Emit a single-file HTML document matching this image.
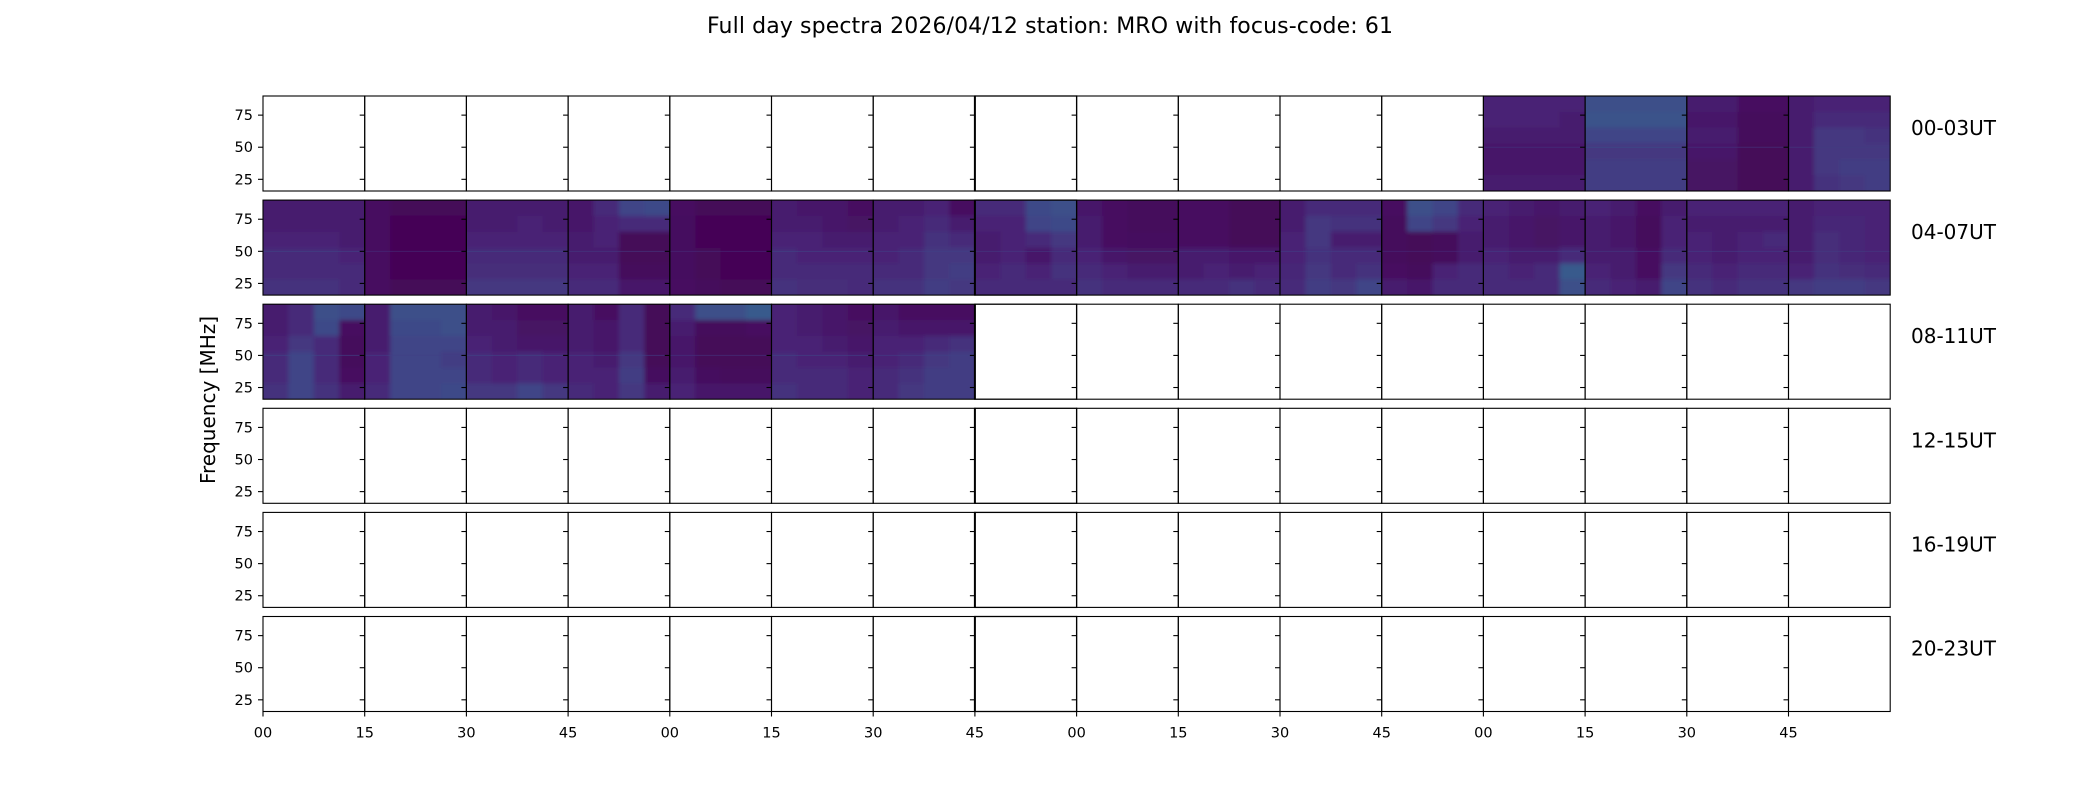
<!DOCTYPE html>
<html><head><meta charset="utf-8"><style>
html,body{margin:0;padding:0;background:#fff;}
svg{display:block;font-family:"DejaVu Sans","Liberation Sans",sans-serif;}
</style></head><body>
<svg id="fig" width="2100" height="800" viewBox="0 0 2100 800">
<defs><filter id="soft" x="0" y="0" width="1" height="1"><feGaussianBlur stdDeviation="2"/></filter></defs>
<text x="1050" y="33" text-anchor="middle" font-size="22" textLength="686">Full day spectra 2026/04/12 station: MRO with focus-code: 61</text>
<text transform="translate(215,400) rotate(-90)" text-anchor="middle" font-size="20">Frequency [MHz]</text>
<g id="plots"></g>
</svg>
<script>
const rowLabels = ["00-03UT","04-07UT","08-11UT","12-15UT","16-19UT","20-23UT"];
const xTickLabels = ["00","15","30","45","00","15","30","45","00","15","30","45","00","15","30","45"];
const yTicks = [25,50,75];
const freqRange = [15.9, 89.9];
// panels with data: [row, col]
const panelPos = [
 [0,12],[0,13],[0,14],[0,15],
 [1,0],[1,1],[1,2],[1,3],[1,4],[1,5],[1,6],[1,7],[1,8],[1,9],[1,10],[1,11],[1,12],[1,13],[1,14],[1,15],
 [2,0],[2,1],[2,2],[2,3],[2,4],[2,5],[2,6]
];
// intensity grids: 6 freq bands (high->low) x 4 time segments
const panelGrids = [
 [[.12,.12,.12,.12],[.12,.12,.12,.1],[.1,.1,.1,.1],[.08,.08,.08,.08],[.08,.08,.08,.08],[.1,.1,.1,.1]],
 [[.3,.3,.3,.3],[.32,.32,.32,.32],[.25,.25,.25,.25],[.2,.2,.2,.2],[.22,.22,.22,.22],[.22,.22,.22,.22]],
 [[.1,.1,.05,.05],[.08,.08,.03,.03],[.1,.1,.03,.03],[.08,.08,.02,.02],[.06,.06,.02,.02],[.06,.06,.02,.02]],
 [[.1,.12,.12,.12],[.1,.15,.15,.15],[.1,.2,.2,.18],[.1,.2,.2,.2],[.1,.2,.22,.22],[.1,.18,.2,.22]],
 [[.1,.1,.1,.1],[.1,.1,.1,.1],[.12,.12,.12,.1],[.15,.15,.15,.12],[.15,.15,.15,.15],[.18,.18,.18,.15]],
 [[.05,.02,.02,.02],[.05,.01,.01,.01],[.05,.01,.01,.01],[.05,.01,.01,.01],[.05,.01,.01,.01],[.05,.02,.02,.02]],
 [[.1,.1,.1,.1],[.1,.1,.12,.1],[.12,.12,.12,.12],[.15,.15,.15,.15],[.16,.16,.16,.16],[.2,.2,.2,.2]],
 [[.08,.15,.25,.28],[.08,.12,.15,.15],[.1,.12,.02,.02],[.1,.1,.02,.02],[.12,.12,.03,.03],[.15,.15,.08,.08]],
 [[.05,.02,.02,.02],[.04,.01,.01,.01],[.04,.01,.01,.01],[.04,.02,.01,.01],[.04,.02,.01,.01],[.05,.03,.02,.02]],
 [[.1,.08,.08,.05],[.1,.1,.08,.06],[.12,.12,.1,.1],[.15,.12,.12,.12],[.15,.15,.15,.15],[.18,.16,.16,.15]],
 [[.1,.1,.12,.05],[.1,.12,.15,.1],[.12,.12,.18,.15],[.12,.15,.2,.2],[.15,.15,.2,.22],[.18,.18,.22,.2]],
 [[.15,.15,.28,.3],[.12,.12,.25,.28],[.1,.12,.15,.2],[.1,.12,.08,.15],[.12,.15,.12,.18],[.15,.15,.15,.15]],
 [[.08,.05,.03,.03],[.1,.05,.03,.03],[.1,.05,.04,.04],[.12,.08,.06,.06],[.15,.12,.1,.1],[.18,.15,.15,.15]],
 [[.05,.05,.02,.02],[.05,.05,.02,.02],[.05,.05,.02,.02],[.1,.1,.08,.08],[.1,.12,.1,.12],[.15,.15,.18,.15]],
 [[.1,.15,.15,.15],[.1,.2,.18,.18],[.12,.2,.1,.1],[.12,.18,.15,.15],[.14,.2,.15,.18],[.15,.22,.2,.25]],
 [[.05,.3,.25,.15],[.03,.25,.2,.12],[.03,.02,.03,.1],[.03,.02,.03,.1],[.05,.03,.12,.15],[.1,.08,.15,.15]],
 [[.12,.1,.08,.1],[.1,.08,.06,.08],[.1,.08,.06,.08],[.12,.1,.1,.15],[.15,.12,.15,.35],[.15,.15,.15,.3]],
 [[.12,.1,.05,.1],[.1,.08,.03,.12],[.1,.08,.03,.12],[.1,.1,.05,.15],[.12,.1,.05,.2],[.15,.12,.1,.25]],
 [[.12,.12,.12,.12],[.1,.1,.1,.1],[.12,.1,.12,.15],[.12,.1,.12,.12],[.15,.12,.15,.15],[.18,.15,.18,.18]],
 [[.1,.12,.12,.12],[.1,.14,.14,.12],[.1,.16,.14,.12],[.1,.16,.14,.12],[.12,.18,.16,.15],[.2,.22,.22,.2]],
 [[.1,.15,.3,.28],[.1,.15,.28,.05],[.12,.2,.15,.03],[.15,.25,.15,.03],[.15,.25,.15,.05],[.18,.25,.18,.1]],
 [[.1,.3,.3,.3],[.1,.28,.28,.3],[.1,.25,.25,.25],[.12,.25,.25,.22],[.12,.25,.25,.25],[.15,.25,.25,.28]],
 [[.1,.08,.05,.05],[.1,.1,.06,.06],[.12,.1,.08,.08],[.15,.12,.15,.12],[.15,.12,.15,.12],[.2,.2,.25,.2]],
 [[.1,.05,.15,.02],[.1,.08,.15,.02],[.1,.08,.15,.02],[.12,.1,.2,.02],[.12,.12,.22,.04],[.15,.12,.2,.1]],
 [[.15,.3,.3,.35],[.1,.03,.03,.05],[.08,.02,.02,.02],[.08,.02,.02,.02],[.1,.04,.03,.03],[.12,.08,.08,.08]],
 [[.12,.1,.08,.05],[.12,.1,.08,.06],[.12,.12,.1,.08],[.15,.12,.12,.1],[.15,.15,.15,.12],[.18,.15,.15,.12]],
 [[.08,.05,.05,.05],[.1,.08,.08,.08],[.12,.12,.15,.18],[.12,.15,.2,.22],[.15,.18,.22,.22],[.15,.2,.22,.22]]
];
const NS="http://www.w3.org/2000/svg";
const L=263, PW=101.7, T0=96, RS=104.1, PH=95;
const viridis=[[68,1,84],[72,36,117],[65,68,135],[53,95,141],[42,120,142],[33,145,140],[34,168,132],[68,191,112],[122,209,81],[189,223,38],[253,231,37]];
function cmap(v){v=Math.max(0,Math.min(1,v*0.8))*10;const i=Math.min(9,Math.floor(v)),f=v-i;const a=viridis[i],b=viridis[i+1];
 return `rgb(${Math.round(a[0]+(b[0]-a[0])*f)},${Math.round(a[1]+(b[1]-a[1])*f)},${Math.round(a[2]+(b[2]-a[2])*f)})`;}
function xPanel(c){return L+c*PW;}
function yRow(r){return T0+r*RS;}
function yFreq(r,f){return yRow(r)+(freqRange[1]-f)/(freqRange[1]-freqRange[0])*PH;}
const g=document.getElementById('plots');
function mk(tag,attrs,parent){const e=document.createElementNS(NS,tag);for(const k in attrs)e.setAttribute(k,attrs[k]);(parent||g).appendChild(e);return e;}
panelPos.forEach((p,i)=>{
  const [r,c]=p, grid=panelGrids[i], x0=xPanel(c), y0=yRow(r);
  const cp=mk('clipPath',{id:'cp'+i});
  mk('rect',{x:x0,y:y0,width:PW,height:PH},cp);
  const hg=mk('g',{'clip-path':`url(#cp${i})`});
  
  
  const inner=mk('g',{filter:'url(#soft)'},hg);
  const nb=grid.length, nt=grid[0].length;
  const bandF=(freqRange[1]-freqRange[0])/nb;
  grid.forEach((row,bi)=>{row.forEach((v,ti)=>{
    const fTop=freqRange[1]-bi*bandF, fBot=fTop-bandF;
    const ya=yFreq(r,fTop)-(bi==0?4:0), yb=yFreq(r,fBot)+(bi==nb-1?4:0);
    const xa=x0+ti*PW/nt-(ti==0?4:0), xb=x0+(ti+1)*PW/nt+(ti==nt-1?4:0);
    const cell=mk('rect',{x:xa,y:ya,width:xb-xa+0.5,height:yb-ya+0.5,fill:cmap(v)},inner);
    
    
  });});
  const ln=mk('line',{x1:x0,x2:x0+PW,y1:yFreq(r,50),y2:yFreq(r,50),stroke:cmap(grid[3][0]+0.12),'stroke-width':1,opacity:0.6},hg);
  
  
});
for(let r=0;r<6;r++){
  for(let c=0;c<16;c++){
    const x0=xPanel(c), y0=yRow(r);
    const fr=mk('rect',{x:x0,y:y0,width:PW,height:PH,fill:'none',stroke:'#000','stroke-width':c==7?1.3:1.1});
    
    
    yTicks.forEach(t=>{const y=yFreq(r,t);mk('line',{x1:x0-5,x2:x0,y1:y,y2:y,stroke:'#000','stroke-width':1.1});});
    if(r==5){mk('line',{x1:x0,x2:x0,y1:y0+PH,y2:y0+PH+5,stroke:'#000','stroke-width':1.1});
      const tl=mk('text',{x:x0,y:y0+PH+26,'text-anchor':'middle','font-size':14.5});
      tl.textContent=xTickLabels[c];
      
      }
  }
  yTicks.forEach(t=>{const tl=mk('text',{x:253,y:yFreq(r,t)+5,'text-anchor':'end','font-size':14.5});tl.textContent=t;
    
    });
  mk('line',{x1:xPanel(7),x2:xPanel(7),y1:yRow(r),y2:yRow(r)+PH,stroke:'#000','stroke-width':2});
  const rl=mk('text',{x:1911,y:yRow(r)+39,'font-size':20});
  rl.textContent=rowLabels[r];
  
  
}
</script>
</body></html>
